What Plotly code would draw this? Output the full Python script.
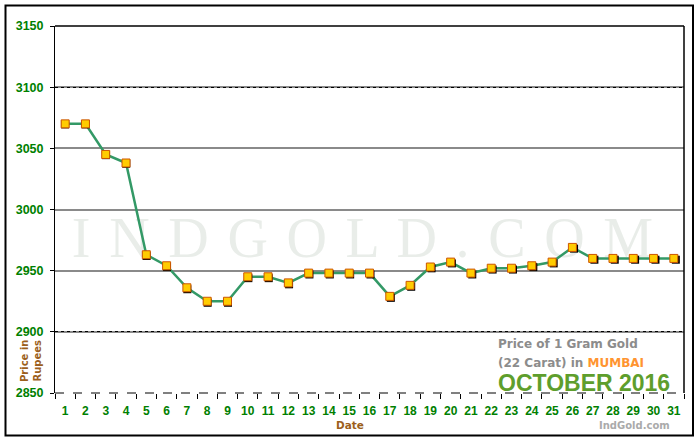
import plotly.graph_objects as go

# ---- data ----
days = [str(d) for d in range(1, 32)]
prices = [3070, 3070, 3045, 3038, 2963, 2954, 2936, 2925, 2925, 2945,
          2945, 2940, 2948, 2948, 2948, 2948, 2929, 2938, 2953, 2957,
          2948, 2952, 2952, 2954, 2957, 2969, 2960, 2960, 2960, 2960, 2960]
y_ticks = [2850, 2900, 2950, 3000, 3050, 3100, 3150]
y_range = [2850, 3150]

# ---- layout geometry (pixels) ----
W, H = 700, 440
ML, MR, MT, MB = 55, 16, 26, 47
PW, PH = W - ML - MR, H - MT - MB
SH = 2  # marker shadow offset in px

GREEN = "#008000"
BROWN = "#9c5f1c"

n = len(days)
x_range = [-0.5, n - 0.5]
# shadow axes: shifted SH px right and SH px down with same scale
x2_range = [-0.5, -0.5 + (PW - SH) * n / PW]
y2_span = (PH - SH) * (y_range[1] - y_range[0]) / PH
y2_range = [y_range[1] - y2_span, y_range[1]]

fig = go.Figure()

# green line (main axes)
fig.add_trace(go.Scatter(
    x=days, y=prices, mode="lines",
    line=dict(color="#339966", width=2.5),
    xaxis="x", yaxis="y", hoverinfo="skip", showlegend=False))

# marker shadows (shifted overlay axes)
fig.add_trace(go.Scatter(
    x=days, y=prices, mode="markers",
    marker=dict(symbol="square", size=8, color="#000000", line=dict(width=0)),
    xaxis="x2", yaxis="y2", hoverinfo="skip", showlegend=False, cliponaxis=False))

# markers (unshifted overlay axes)
fig.add_trace(go.Scatter(
    x=days, y=prices, mode="markers",
    marker=dict(symbol="square", size=8, color="#FFCC00",
                line=dict(color="#CC5500", width=1)),
    xaxis="x3", yaxis="y3", showlegend=False, cliponaxis=False,
    hovertemplate="Day %{x}: %{y}<extra></extra>"))

fig.update_layout(
    width=W, height=H,
    margin=dict(l=ML, r=MR, t=MT, b=MB, pad=0, autoexpand=False),
    paper_bgcolor="white",
    plot_bgcolor="rgba(0,0,0,0)",
    xaxis=dict(type="category", categoryorder="array", categoryarray=days,
               range=x_range, domain=[0, 1], showgrid=False, zeroline=False,
               showline=False, ticks="outside", ticklen=5, tickwidth=1,
               tickcolor="black", tickson="boundaries", tickangle=0,
               tickfont=dict(family="Liberation Sans, Arial, sans-serif",
                             size=12, color=GREEN, weight="bold"),
               ticklabelstandoff=9, automargin=False, fixedrange=True),
    yaxis=dict(range=y_range, tickvals=y_ticks, showgrid=True,
               gridcolor="#8a8a8a", gridwidth=2, zeroline=False,
               showline=True, linecolor="black", linewidth=1,
               ticks="outside", ticklen=4, tickcolor="black",
               tickfont=dict(family="Liberation Sans, Arial, sans-serif",
                             size=12.5, color=GREEN, weight="bold"),
               ticklabelstandoff=4, automargin=False, fixedrange=True),
    xaxis2=dict(type="category", categoryorder="array", categoryarray=days,
                range=x2_range, domain=[SH / PW, 1], overlaying="x",
                anchor="y2", visible=False, automargin=False, fixedrange=True),
    yaxis2=dict(range=y2_range, domain=[0, 1 - SH / PH], overlaying="y",
                anchor="x2", visible=False, automargin=False, fixedrange=True),
    xaxis3=dict(type="category", categoryorder="array", categoryarray=days,
                range=x_range, domain=[0, 1], overlaying="x", anchor="y3",
                showgrid=False, showticklabels=False, ticks="", showline=False,
                zeroline=False, automargin=False, fixedrange=True),
    yaxis3=dict(range=y_range, tickvals=[2900, 3100], overlaying="y",
                anchor="x3", showgrid=True, gridcolor="black", gridwidth=1,
                griddash="dot", showticklabels=False, ticks="",
                showline=False, zeroline=False, automargin=False,
                fixedrange=True),
)

def px_x(p):
    return (p - ML) / PW

def px_y(p):
    return 1 - (p - MT) / PH

wm_sep = " \u200a"
watermark = wm_sep.join(list("INDGOLD.COM"))

shapes = [
    # watermark (drawn beneath everything)
    dict(type="rect", xref="paper", yref="paper",
         x0=px_x(50), x1=px_x(675), y0=px_y(257), y1=px_y(207),
         line=dict(width=0), fillcolor="rgba(0,0,0,0)", layer="below",
         label=dict(text=watermark,
                    font=dict(family="Liberation Serif, Times New Roman, serif",
                              size=56, color="#e9ede9"),
                    textposition="middle center")),
    # cover edge gridline at bottom with white, then dashed black
    dict(type="line", xref="paper", yref="paper", x0=0, x1=1, y0=0, y1=0,
         line=dict(color="white", width=2)),
    dict(type="line", xref="paper", yref="paper", x0=0, x1=1, y0=0, y1=0,
         line=dict(color="black", width=1, dash="dash")),
    # plot frame: top and right
    dict(type="line", xref="paper", yref="paper", x0=0, x1=1, y0=1, y1=1,
         line=dict(color="black", width=1.5)),
    dict(type="line", xref="paper", yref="paper", x0=1, x1=1, y0=0, y1=1,
         line=dict(color="black", width=1.5)),
    # outer border
    dict(type="rect", xref="paper", yref="paper",
         x0=px_x(5.5), x1=px_x(693), y0=px_y(435.5), y1=px_y(5.5),
         line=dict(color="black", width=2), fillcolor="rgba(0,0,0,0)"),
]
fig.update_layout(shapes=shapes)

SANS = "DejaVu Sans, Verdana, sans-serif"
annotations = [
    dict(text="<b>Date</b>", x=px_x(350), y=px_y(425), xref="paper", yref="paper",
         showarrow=False, font=dict(family=SANS, size=10.5, color=BROWN),
         xanchor="center", yanchor="middle"),
    dict(text="<b>Price in<br>Rupees</b>", x=px_x(31), y=px_y(361),
         xref="paper", yref="paper", showarrow=False, textangle=-90,
         font=dict(family=SANS, size=10, color=BROWN),
         xanchor="center", yanchor="middle"),
    dict(text="<b>Price of 1 Gram Gold</b>", x=px_x(496), y=px_y(344),
         xref="paper", yref="paper", showarrow=False,
         font=dict(family=SANS, size=12, color="#8c8c8c"),
         xanchor="left", yanchor="middle"),
    dict(text="<b>(22 Carat) in <span style='color:#FF9430'>MUMBAI</span></b>",
         x=px_x(496), y=px_y(363), xref="paper", yref="paper", showarrow=False,
         font=dict(family=SANS, size=12, color="#8c8c8c"),
         xanchor="left", yanchor="middle"),
    dict(text="<b>OCTOBER 2016</b>", x=px_x(496), y=px_y(383),
         xref="paper", yref="paper", showarrow=False,
         font=dict(family="Liberation Sans, Arial, sans-serif", size=23,
                   color="#5e9e2c"),
         xanchor="left", yanchor="middle"),
    dict(text="<b>IndGold.com</b>", x=px_x(672), y=px_y(425),
         xref="paper", yref="paper", showarrow=False,
         font=dict(family=SANS, size=10, color="#aaaaaa"),
         xanchor="right", yanchor="middle"),
]
fig.update_layout(annotations=annotations)

fig.write_html(
    "out.html",
    config={"displayModeBar": False},
    post_script="document.body.style.margin='0';"
                "document.body.style.overflow='hidden';")
